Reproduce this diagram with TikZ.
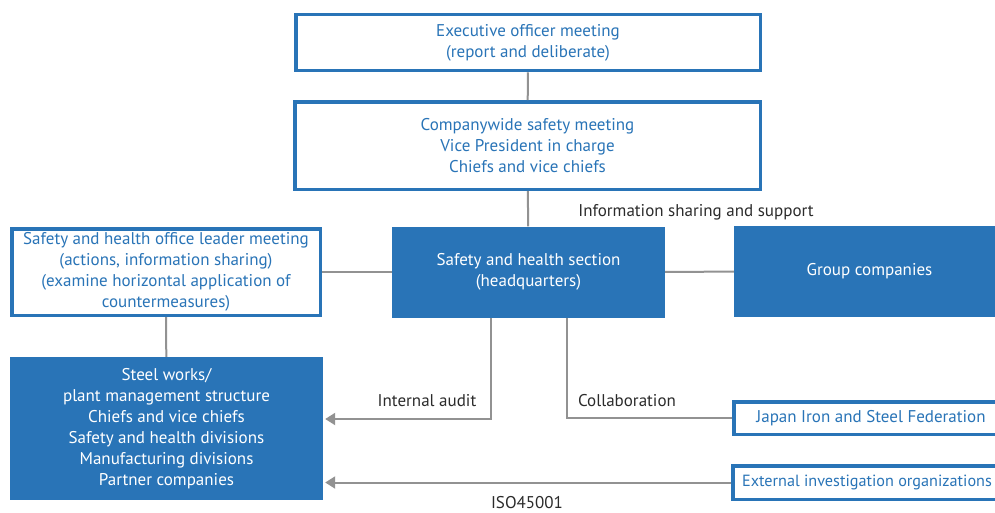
\documentclass[tikz,border=0pt]{standalone}
\usepackage{fontspec}
\setmainfont{PT Sans}
\usetikzlibrary{arrows.meta,positioning,calc}
\definecolor{shBlue}{HTML}{2974B7}
\definecolor{shLine}{HTML}{929292}
\definecolor{shInk}{HTML}{2B2B2B}
\tikzset{
    >=Latex,
    every picture/.style={font=\fontsize{17}{21}\selectfont},
    openbox/.style={draw=shBlue, line width=3.5pt, fill=white, text=shBlue, align=center, inner sep=0pt},
    fullbox/.style={fill=shBlue, text=white, align=center, inner sep=0pt},
    note/.style={text=shInk, inner sep=0pt},
    link/.style={draw=shLine, line width=2pt},
    arrow/.style={-{Triangle[length=10pt,width=12pt]}, draw=shLine, line width=2pt, shorten >=2pt}
}
\begin{document}
\begin{tikzpicture}[x=1pt, y=-1pt]
\clip (0,0) rectangle (995,512);
\node[openbox, minimum width=464.5pt, minimum height=56pt] (exec) at (528,42.5) {Executive officer meeting\\(report and deliberate)};
\node[openbox, minimum width=465.5pt, minimum height=87.5pt] (company) at (527.5,145.5) {Companywide safety meeting\\Vice President in charge\\Chiefs and vice chiefs};
\node[fullbox, minimum width=273pt, minimum height=91pt] (section) at (528.5,272) {Safety and health section\\(headquarters)};
\node[openbox, minimum width=308.5pt, minimum height=86.5pt] (leader) at (166,272) {Safety and health office leader meeting\\(actions, information sharing)\\(examine horizontal application of\\countermeasures)};
\node[fullbox, minimum width=271pt, minimum height=91pt] (group) at (869.5,271.5) {Group companies};
\node[fullbox, minimum width=313pt, minimum height=143pt] (steel) at (166.5,428.5) {Steel works/\\plant management structure\\Chiefs and vice chiefs\\Safety and health divisions\\Manufacturing divisions\\Partner companies};
\node[openbox, minimum width=274pt, minimum height=32.5pt] (japan) at (871,418) {Japan Iron and Steel Federation};
\node[openbox, minimum width=268pt, minimum height=33.5pt, font=\fontsize{16.2}{21}\selectfont] (external) at (867,482.5) {External investigation organizations};
\draw[link] (exec)--(company); \draw[link] (company)--(section);
\draw[link] (leader)--(section); \draw[link] (section)--(group); \draw[link] (leader)--(steel);
\draw[arrow] ([xshift=-38pt]section.south) |- ([yshift=9.5pt]steel.east);
\draw[link] ([xshift=38pt]section.south) |- (japan.west);
\draw[arrow] (external.west) -- (steel.east |- external.west);
\node[note] (share) at (696,212) {Information sharing and support};
\node[note] (audit) at (427,401) {Internal audit};
\node[note] (collab) at (627,401) {Collaboration};
\node[note] (iso) at (527,503) {ISO45001};
\end{tikzpicture}
\end{document}
